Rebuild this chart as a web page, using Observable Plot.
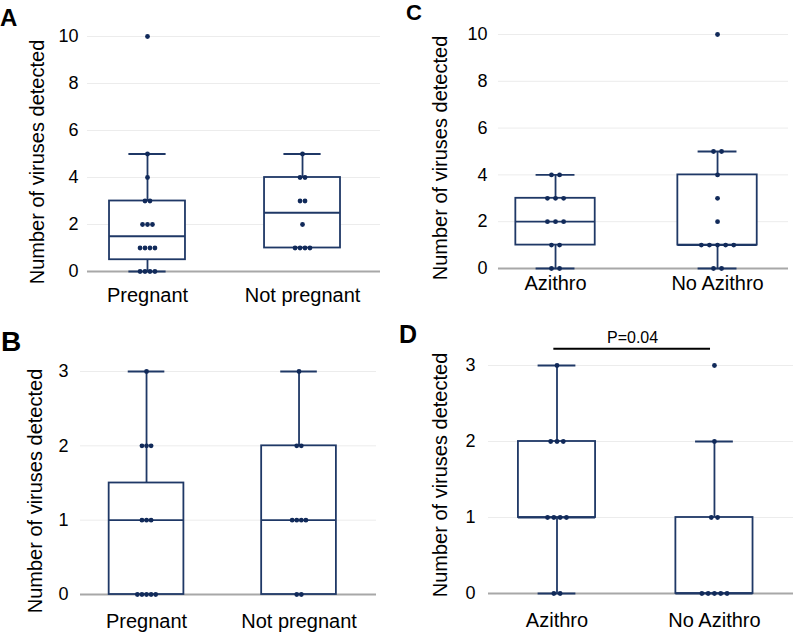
<!DOCTYPE html>
<html><head><meta charset="utf-8">
<script src="https://cdn.jsdelivr.net/npm/d3@7"></script>
<script src="https://cdn.jsdelivr.net/npm/@observablehq/plot@0.6"></script>
<style>
body{margin:0;background:#fff;font-family:"Liberation Sans",Arial,sans-serif;}
#wrap{position:relative;width:800px;height:633px;overflow:hidden;background:#fff;}
.panel{position:absolute;}
.letter{position:absolute;font-weight:bold;line-height:1;color:#000;font-family:"Liberation Sans",Arial,sans-serif;}
.ytitle{position:absolute;font-size:20px;line-height:1;white-space:nowrap;color:#000;transform:translate(-50%,-50%) rotate(-90deg);}
</style></head>
<body><div id="wrap"></div>
<script>
// ---------- data ----------
const pregnancyGroups = ["Pregnant", "Not pregnant"];
const azithroGroups = ["Azithro", "No Azithro"];
const yTitle = "Number of viruses detected";

// Panel A: viruses detected (all), by pregnancy status
const aPregnant = [10, 5, 4, 3, 3, 2, 2, 2, 1, 1, 1, 1, 0, 0, 0, 0];
const aNotPregnant = [5, 4, 4, 3, 3, 2, 1, 1, 1, 1];
const aQ1 = [0.5, 1], aMedian = [1.5, 2.5], aQ3 = [3, 4], aLow = [0, 1], aHigh = [5, 5];
const aTicks = [0, 2, 4, 6, 8, 10];

// Panel B
const bPregnant = [3, 2, 2, 2, 1, 1, 1, 0, 0, 0, 0, 0];
const bNotPregnant = [3, 2, 2, 1, 1, 1, 1, 0, 0];
const bQ1 = [0, 0], bMedian = [1, 1], bQ3 = [1.5, 2], bLow = [0, 0], bHigh = [3, 3];
const bTicks = [0, 1, 2, 3];

// Panel C: by azithromycin
const cAzithro = [4, 4, 3, 3, 3, 2, 2, 2, 1, 1, 0, 0];
const cNoAzithro = [10, 5, 5, 4, 3, 2, 1, 1, 1, 1, 1, 0, 0];
const cQ1 = [1, 1], cMedian = [2, 1], cQ3 = [3, 4], cLow = [0, 0], cHigh = [4, 5];
const cTicks = [0, 2, 4, 6, 8, 10];

// Panel D
const dAzithro = [3, 2, 2, 2, 1, 1, 1, 1, 0, 0];
const dNoAzithro = [3, 2, 1, 1, 0, 0, 0, 0, 0];
const dQ1 = [1, 0], dMedian = [1, 0], dQ3 = [2, 1], dLow = [0, 0], dHigh = [3, 2];
const dTicks = [0, 1, 2, 3];
const dPLabel = "P=0.04";
const dPBarLevel = 3.22, dPTextLevel = 3.37;

// ---------- drawing ----------
const navy = "#1f3866";
const dotColor = "#112a5a";
const boxHalf = 0.245, capHalf = 0.12;

function makePanel(cfg) {
  const pts = [];
  cfg.values.forEach((vals, gi) => {
    const counts = d3.rollup(vals, v => v.length, d => d);
    const seen = new Map();
    vals.forEach(v => {
      const k = counts.get(v), i = seen.get(v) || 0;
      seen.set(v, i + 1);
      pts.push({x: gi + (i - (k - 1) / 2) * cfg.dotGap, y: v});
    });
  });
  const boxes = cfg.groups.map((g, i) => ({
    i, q1: cfg.q1[i], med: cfg.median[i], q3: cfg.q3[i], lo: cfg.low[i], hi: cfg.high[i]
  }));
  const sw = 1.8;
  const marks = [
    Plot.gridY(cfg.ticks.filter(t => t > 0), {stroke: "#ececec", strokeOpacity: 1}),
    Plot.ruleY([0], {stroke: "#a8a8a8", strokeWidth: 1.8}),
    Plot.ruleX(boxes.filter(d => d.lo < d.q1), {x: "i", y1: "lo", y2: "q1", stroke: navy, strokeWidth: sw}),
    Plot.ruleX(boxes.filter(d => d.hi > d.q3), {x: "i", y1: "q3", y2: "hi", stroke: navy, strokeWidth: sw}),
    Plot.ruleY(boxes.filter(d => d.hi > d.q3), {y: "hi", x1: d => d.i - capHalf, x2: d => d.i + capHalf, stroke: navy, strokeWidth: sw}),
    Plot.ruleY(boxes.filter(d => d.lo < d.q1), {y: "lo", x1: d => d.i - capHalf, x2: d => d.i + capHalf, stroke: navy, strokeWidth: sw}),
    Plot.rect(boxes, {x1: d => d.i - boxHalf, x2: d => d.i + boxHalf, y1: "q1", y2: "q3", fill: "white", stroke: navy, strokeWidth: sw}),
    Plot.ruleY(boxes, {y: "med", x1: d => d.i - boxHalf, x2: d => d.i + boxHalf, stroke: navy, strokeWidth: sw}),
    Plot.dot(pts, {x: "x", y: "y", r: 2.4, fill: dotColor, stroke: null}),
    Plot.axisY(cfg.ticks, {tickSize: 0, tickPadding: cfg.yPad, fontSize: 18, tickFormat: d => String(d)}),
    Plot.axisX([0, 1], {tickSize: 0, tickPadding: cfg.xPad, fontSize: 20, tickFormat: i => cfg.groups[i]})
  ];
  if (cfg.extra) marks.push(...cfg.extra);
  return Plot.plot({
    width: cfg.width, height: cfg.height,
    marginLeft: cfg.ml, marginRight: cfg.mr, marginTop: cfg.mt, marginBottom: cfg.mb,
    x: {domain: cfg.xDomain, axis: null},
    y: {domain: [0, cfg.ticks[cfg.ticks.length - 1]], axis: null},
    style: {background: "transparent", fontFamily: "'Liberation Sans', Arial, sans-serif", color: "#000", overflow: "visible"},
    marks
  });
}

const wrap = document.getElementById("wrap");
function place(node, left, top) {
  node.classList.add("panel");
  node.style.left = left + "px";
  node.style.top = top + "px";
  wrap.appendChild(node);
}
function letter(txt, left, top, size) {
  const d = document.createElement("div");
  d.className = "letter"; d.textContent = txt;
  d.style.left = left + "px"; d.style.top = top + "px"; d.style.fontSize = size + "px";
  wrap.appendChild(d);
}
function title(cx, cy) {
  const d = document.createElement("div");
  d.className = "ytitle"; d.textContent = yTitle;
  d.style.left = cx + "px"; d.style.top = cy + "px";
  wrap.appendChild(d);
}

place(makePanel({
  groups: pregnancyGroups, values: [aPregnant, aNotPregnant],
  q1: aQ1, median: aMedian, q3: aQ3, low: aLow, high: aHigh, ticks: aTicks,
  width: 400, height: 310, ml: 87, mr: 20, mt: 36, mb: 39,
  xDomain: [-0.387, 1.503], yPad: 9, xPad: 16, dotGap: 0.032
}), 0, 0);

place(makePanel({
  groups: azithroGroups, values: [cAzithro, cNoAzithro],
  q1: cQ1, median: cMedian, q3: cQ3, low: cLow, high: cHigh, ticks: cTicks,
  width: 400, height: 300, ml: 98, mr: 12, mt: 34, mb: 32,
  xDomain: [-0.352, 1.438], yPad: 11, xPad: 7, dotGap: 0.05
}), 400, 0);

place(makePanel({
  groups: pregnancyGroups, values: [bPregnant, bNotPregnant],
  q1: bQ1, median: bMedian, q3: bQ3, low: bLow, high: bHigh, ticks: bTicks,
  width: 400, height: 333, ml: 80, mr: 24, mt: 71, mb: 39,
  xDomain: [-0.433, 1.508], yPad: 12, xPad: 19, dotGap: 0.03
}), 0, 300);

place(makePanel({
  groups: azithroGroups, values: [dAzithro, dNoAzithro],
  q1: dQ1, median: dMedian, q3: dQ3, low: dLow, high: dHigh, ticks: dTicks,
  width: 400, height: 333, ml: 88, mr: 7, mt: 65, mb: 40,
  xDomain: [-0.435, 1.502], yPad: 13, xPad: 19, dotGap: 0.04,
  extra: [
    Plot.ruleY([dPBarLevel], {x1: -0.02, x2: 0.975, stroke: "#000", strokeWidth: 2}),
    Plot.text([dPLabel], {x: 0.48, y: dPTextLevel, fontSize: 16, fill: "#000"})
  ]
}), 400, 300);

title(37, 162);
title(440, 158);
title(35, 491);
title(440, 475);

letter("A", 0, 6, 24);
letter("C", 406, 2, 22);
letter("B", 1, 328, 28);
letter("D", 399, 322, 25);
</script>
</body></html>
